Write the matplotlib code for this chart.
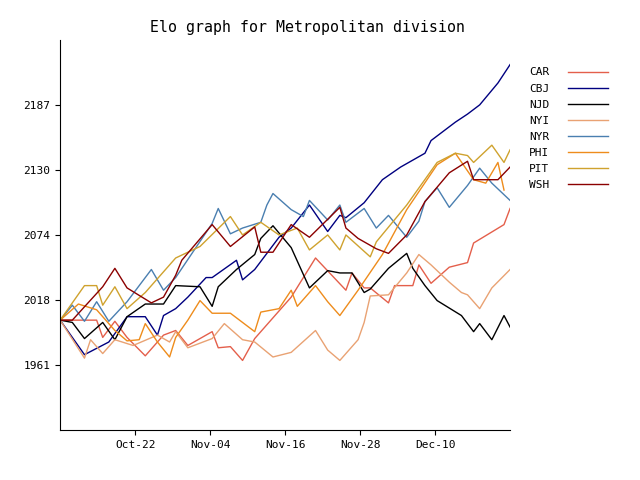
import numpy as np
import matplotlib
matplotlib.use("Agg")
import matplotlib.pyplot as plt

plt.rcParams['font.family'] = ['DejaVu Sans Mono']

teams = ['CAR', 'CBJ', 'NJD', 'NYI', 'NYR', 'PHI', 'PIT', 'WSH']
colors = {'CAR': '#e45f4b', 'CBJ': '#000080', 'NJD': '#000000', 'NYI': '#e9a273',
          'NYR': '#4a7fb0', 'PHI': '#ee8c1c', 'PIT': '#cfa22e', 'WSH': '#8b0000'}

# days since season start, Elo after each game
car_days = [0, 6, 7, 9, 11, 14, 17, 19, 21, 25, 26, 28, 30, 32, 35, 38, 42, 47, 48, 50, 51, 54, 55, 57, 58, 59, 61, 64, 67, 68, 73, 74]
car_elo = [2000, 2000, 1985, 1999, 1985, 1969, 1987, 1991, 1978, 1990, 1976, 1977, 1965, 1984, 2002, 2020, 2054, 2026, 2041, 2028, 2028, 2015, 2030, 2030, 2030, 2048, 2032, 2046, 2050, 2067, 2083, 2097]

cbj_days = [0, 4, 8, 11, 14, 16, 17, 19, 21, 24, 25, 29, 30, 32, 36, 38, 41, 44, 46, 47, 50, 53, 56, 60, 61, 63, 65, 67, 69, 72, 74]
cbj_elo = [2000, 1970, 1981, 2003, 2003, 1987, 2004, 2010, 2020, 2037, 2037, 2052, 2035, 2044, 2072, 2080, 2100, 2077, 2091, 2089, 2102, 2122, 2133, 2145, 2156, 2164, 2172, 2179, 2187, 2206, 2222]

njd_days = [0, 2, 4, 7, 9, 11, 14, 17, 19, 23, 25, 26, 29, 32, 33, 35, 38, 41, 44, 46, 48, 50, 51, 54, 57, 58, 60, 62, 66, 68, 69, 71, 73, 74]
njd_elo = [2000, 1998, 1984, 1998, 1983, 2003, 2014, 2014, 2030, 2029, 2012, 2029, 2044, 2057, 2071, 2082, 2063, 2028, 2043, 2041, 2041, 2024, 2027, 2045, 2058, 2045, 2030, 2017, 2004, 1990, 1997, 1983, 2004, 1994]

nyi_days = [0, 4, 5, 7, 9, 12, 16, 18, 19, 21, 25, 27, 30, 32, 35, 38, 42, 44, 46, 49, 50, 51, 54, 57, 59, 61, 64, 66, 67, 69, 71, 74]
nyi_elo = [2000, 1967, 1983, 1971, 1983, 1978, 1987, 1981, 1990, 1976, 1984, 1997, 1983, 1981, 1968, 1972, 1991, 1974, 1965, 1983, 1998, 2021, 2022, 2041, 2057, 2048, 2033, 2024, 2022, 2010, 2028, 2044]

nyr_days = [0, 2, 4, 6, 8, 11, 15, 17, 19, 25, 26, 28, 30, 33, 34, 35, 38, 40, 41, 44, 46, 47, 50, 52, 54, 57, 59, 60, 62, 64, 67, 69, 71, 74]
nyr_elo = [2000, 2013, 1999, 2016, 1999, 2016, 2044, 2026, 2037, 2084, 2097, 2075, 2080, 2085, 2100, 2110, 2096, 2090, 2104, 2087, 2100, 2085, 2097, 2080, 2091, 2072, 2086, 2103, 2115, 2098, 2117, 2132, 2119, 2104]

phi_days = [0, 3, 6, 9, 11, 13, 14, 16, 18, 19, 21, 23, 25, 28, 32, 33, 36, 38, 39, 42, 44, 46, 49, 53, 57, 62, 65, 68, 70, 72, 73]
phi_elo = [2000, 2014, 2009, 1991, 1982, 1983, 1997, 1981, 1968, 1985, 2000, 2017, 2006, 2006, 1990, 2007, 2010, 2026, 2012, 2030, 2016, 2004, 2026, 2057, 2096, 2135, 2145, 2122, 2119, 2137, 2113]

pit_days = [0, 4, 6, 7, 9, 11, 14, 19, 23, 28, 30, 33, 36, 39, 41, 44, 46, 47, 51, 52, 57, 62, 65, 67, 68, 71, 73, 74]
pit_elo = [2000, 2030, 2030, 2013, 2029, 2010, 2024, 2054, 2064, 2090, 2074, 2085, 2074, 2080, 2061, 2074, 2061, 2074, 2055, 2068, 2100, 2137, 2145, 2143, 2137, 2152, 2137, 2148]

wsh_days = [0, 2, 7, 9, 11, 15, 17, 19, 20, 25, 28, 32, 33, 35, 38, 41, 46, 47, 49, 52, 54, 57, 60, 64, 67, 68, 72, 74]
wsh_elo = [2000, 2000, 2029, 2045, 2028, 2015, 2020, 2039, 2052, 2083, 2064, 2081, 2059, 2059, 2083, 2072, 2098, 2080, 2071, 2062, 2058, 2074, 2103, 2128, 2138, 2122, 2122, 2133]

series = {'CAR': (car_days, car_elo), 'CBJ': (cbj_days, cbj_elo), 'NJD': (njd_days, njd_elo),
          'NYI': (nyi_days, nyi_elo), 'NYR': (nyr_days, nyr_elo), 'PHI': (phi_days, phi_elo),
          'PIT': (pit_days, pit_elo), 'WSH': (wsh_days, wsh_elo)}

date_labels = ['Oct-22', 'Nov-04', 'Nov-16', 'Nov-28', 'Dec-10']
x_range = (0, 74)
y_range = (1904.5, 2243.5)

fig = plt.figure(figsize=(6.4, 4.8), dpi=100)
ax = fig.add_axes([0.094, 0.104, 0.703, 0.813])

for team in teams:
    d, e = series[team]
    ax.plot(d, e, color=colors[team], lw=1, label=team)

ax.set_xlim(*x_range)
ax.set_ylim(*y_range)
ax.set_xticks(np.linspace(x_range[0], x_range[1], 7)[1:-1])
ax.set_xticklabels(date_labels, fontsize=8)
yt = np.linspace(y_range[0], y_range[1], 7)[1:-1]
ax.set_yticks(yt)
ax.set_yticklabels([str(int(round(v))) for v in yt], fontsize=8)
ax.spines['top'].set_visible(False)
ax.spines['right'].set_visible(False)
ax.set_title('Elo graph for Metropolitan division', fontsize=10.7, x=0.549)

ax.legend(loc='upper left', bbox_to_anchor=(1.02, 0.955), frameon=False,
          markerfirst=False, fontsize=8, handlelength=3.6, handletextpad=1.7,
          labelspacing=0.55)

fig.savefig('out.png', dpi=100)
